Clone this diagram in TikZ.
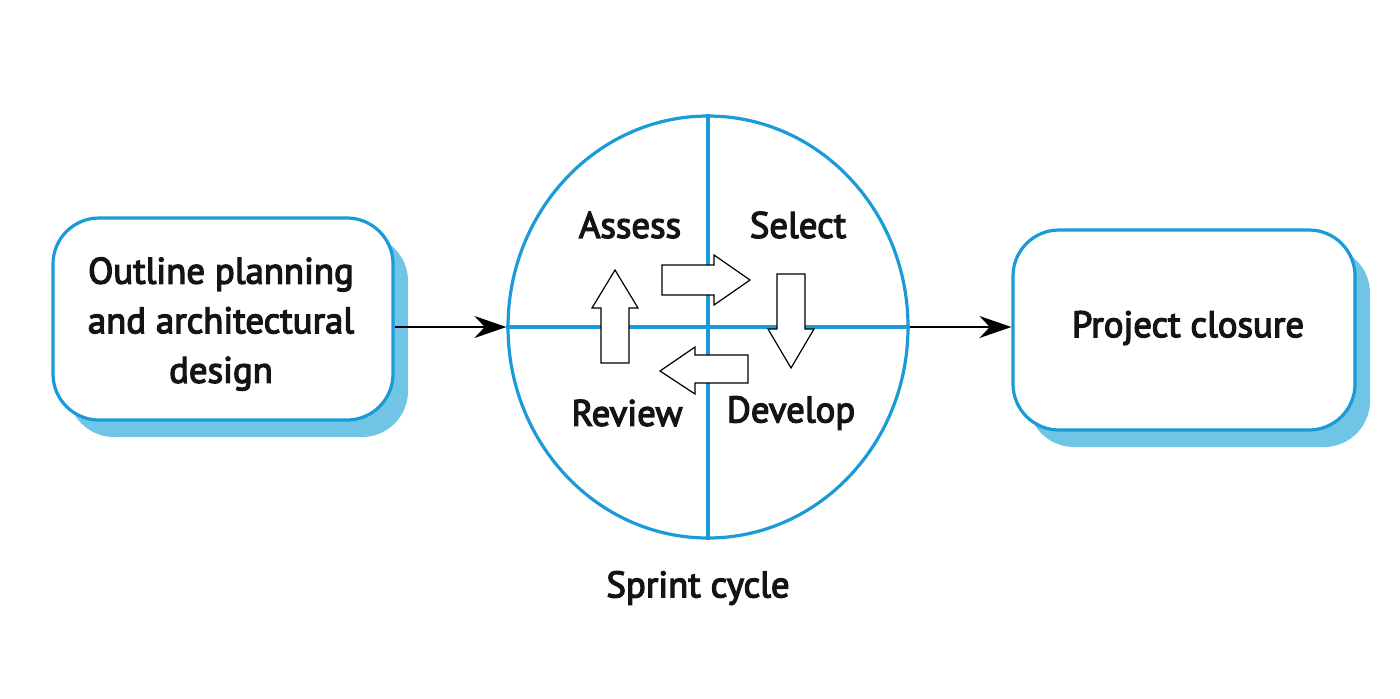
\documentclass[tikz,border=0pt]{standalone}
\usepackage{fontspec}
\setmainfont{PT Sans}[FakeBold=3.5]
\usetikzlibrary{shapes.geometric,arrows.meta}
\definecolor{cblue}{HTML}{1A9BD7}
\definecolor{cshadow}{HTML}{70C5E6}
\tikzset{
  txt/.style={font=\fontsize{18.4}{24.8}\selectfont, text=black!92, align=center},
  boxshape/.style={draw=cblue, line width=1.6pt, fill=white, rounded corners=23pt, inner sep=0pt},
  shadowshape/.style={fill=cshadow, rounded corners=23pt},
  blockarrow/.style={draw=black, line width=0.6pt, fill=white, line join=miter},
  conn/.style={line width=1pt, -{Stealth[length=16pt,width=11pt]}},
  divline/.style={draw=cblue, line width=1.6pt}
}
\begin{document}
\begin{tikzpicture}[x=0.5pt,y=-0.5pt]
\useasboundingbox (0,0) rectangle (1400,698);
% shadows
\fill[shadowshape] (68,235) rectangle (408,437);
\fill[shadowshape] (1028,247) rectangle (1370,447);
% boxes
\node[boxshape, minimum width=170pt, minimum height=101pt] (plan) at (223,319) {};
\node[txt] (plantext) at (221,324) {Outline planning\\and architectural\\design};
\node[boxshape, minimum width=171pt, minimum height=100pt] (close) at (1184,330) {};
\node[txt] (closetext) at (1188,328) {Project closure};
% sprint cycle ellipse
\node[ellipse, draw=cblue, line width=1.6pt, minimum width=200pt, minimum height=211pt, inner sep=0pt] (cyc) at (708,327) {};
\draw[divline] (cyc.north) -- (cyc.south);
\draw[divline] (cyc.west) -- (cyc.east);
% labels
\node[txt] (assess) at (630,225) {Assess};
\node[txt] (select) at (798,225) {Select};
\node[txt] (review) at (627,413) {Review};
\node[txt] (develop) at (791,413) {Develop};
\node[txt] (sprint) at (698,588) {Sprint cycle};
% block arrows
\draw[blockarrow] (601,363) -- (601,308) -- (592,308) -- (615,270) -- (638,308) -- (629,308) -- (629,363) -- cycle;
\draw[blockarrow] (662,265) -- (714,265) -- (714,255) -- (750,280) -- (714,305) -- (714,295) -- (662,295) -- cycle;
\draw[blockarrow] (777,274) -- (805,274) -- (805,329) -- (814,329) -- (791,368) -- (768,329) -- (777,329) -- cycle;
\draw[blockarrow] (748,355) -- (748,383) -- (695,383) -- (695,394) -- (660,371) -- (695,347) -- (695,355) -- cycle;
% connectors
\draw[conn] (plan.east |- cyc.west) -- (cyc.west);
\draw[conn] (cyc.east) -- (cyc.east -| close.west);
\end{tikzpicture}
\end{document}
